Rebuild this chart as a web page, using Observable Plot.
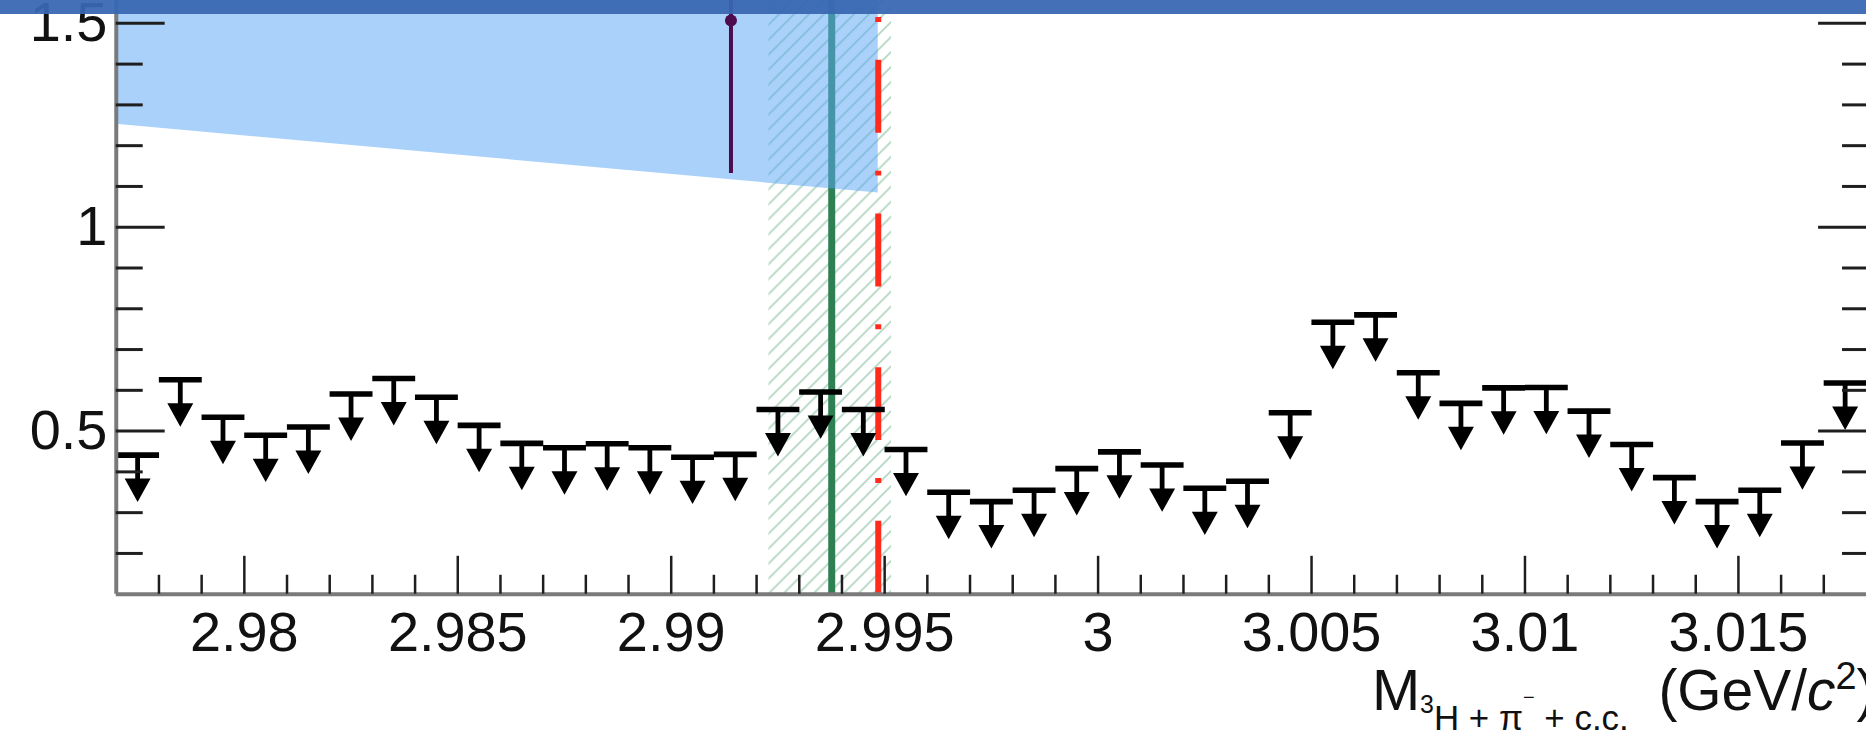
<!DOCTYPE html>
<html>
<head>
<meta charset="utf-8">
<script src="https://cdn.jsdelivr.net/npm/d3@7"></script>
<script src="https://cdn.jsdelivr.net/npm/@observablehq/plot@0.6"></script>
<style>
  html, body { margin: 0; padding: 0; background: #fff; overflow: hidden; }
  #wrap { position: relative; width: 1866px; height: 731px; overflow: hidden; }
  #header { position: absolute; left: 0; top: 0; width: 1866px; height: 14px; background: rgba(56,103,178,0.94); }
</style>
</head>
<body>
<svg width="0" height="0" style="position:absolute">
  <defs>
    <pattern id="hatch" patternUnits="userSpaceOnUse" width="15" height="15">
      <path d="M-3,18 L18,-3 M-3,3 L3,-3 M12,18 L18,12" stroke="#b3d6c1" stroke-width="1.8" fill="none"/>
    </pattern>
  </defs>
</svg>
<div id="wrap"><div id="chart"></div><div id="header"></div></div>
<script>
// ---- data ----
const binCenters = [
  2.9775, 2.9785, 2.9795, 2.9805, 2.9815, 2.9825, 2.9835, 2.9845, 2.9855, 2.9865,
  2.9875, 2.9885, 2.9895, 2.9905, 2.9915, 2.9925, 2.9935, 2.9945, 2.9955, 2.9965,
  2.9975, 2.9985, 2.9995, 3.0005, 3.0015, 3.0025, 3.0035, 3.0045, 3.0055, 3.0065,
  3.0075, 3.0085, 3.0095, 3.0105, 3.0115, 3.0125, 3.0135, 3.0145, 3.0155, 3.0165,
  3.0175
];
const upperLimits = [
  0.441, 0.626, 0.534, 0.490, 0.510, 0.591, 0.629, 0.583, 0.514, 0.470,
  0.459, 0.469, 0.459, 0.436, 0.443, 0.553, 0.596, 0.553, 0.455, 0.350,
  0.327, 0.355, 0.408, 0.449, 0.417, 0.360, 0.377, 0.545, 0.767, 0.785,
  0.643, 0.568, 0.606, 0.607, 0.549, 0.467, 0.386, 0.327, 0.355, 0.471,
  0.618
];
const xMajorTicks = [2.98, 2.985, 2.99, 2.995, 3, 3.005, 3.01, 3.015];
const yMajorTicks = [0.5, 1, 1.5];
const xDomain = [2.977, 3.018];
const yDomain = [0.1, 1.556];

const measX = [2.9914];
const measY = [1.507];
const measLo = [1.132];
const measHi = [1.556];

const bandX = [2.977, 2.99485];
const bandLow = [1.2526, 1.0837];

const greenLineX = [2.99376];
const hatchRange = [2.99229, 2.99516];
const redLineX = [2.99485];

// ---- derived tables ----
const limits = binCenters.map((x, i) => ({x, y: upperLimits[i]}));
const meas = measX.map((x, i) => ({x, y: measY[i], lo: measLo[i], hi: measHi[i]}));
const band = bandX.map((x, i) => ({x, low: bandLow[i]}));
const hatch = [{lo: hatchRange[0], hi: hatchRange[1]}];
const isMajor = (v, arr) => arr.some(t => Math.abs(t - v) < 1e-9);
const xMinorTicks = d3.range(2978, 3018).map(v => v / 1000).filter(v => !isMajor(v, xMajorTicks));
const yMinorTicks = d3.range(2, 16).map(v => v / 10).filter(v => !isMajor(v, yMajorTicks));
const fmt = d => String(+d.toFixed(3));

// ---- layout ----
const W = 1870, H = 731, mL = 116, mR = 0, mT = 0, mB = 136;
const frameW = W - mL - mR, frameH = H - mT - mB;

// upper-limit marker: cap + stem + filled head, drawn below the value
const ulSymbol = {
  draw(ctx) {
    ctx.moveTo(-21.5, -2.8); ctx.lineTo(21.5, -2.8); ctx.lineTo(21.5, 2.8); ctx.lineTo(-21.5, 2.8); ctx.closePath();
    ctx.moveTo(-2.4, 2.8); ctx.lineTo(2.4, 2.8); ctx.lineTo(2.4, 25); ctx.lineTo(-2.4, 25); ctx.closePath();
    ctx.moveTo(-13, 23.5); ctx.lineTo(13, 23.5); ctx.lineTo(0, 47); ctx.closePath();
  }
};

const tickColor = "#1e1e1e";
const axisGray = "#7a7a7a";
const fontFamily = "'Liberation Sans', Arial, Helvetica, sans-serif";

const plot = Plot.plot({
  width: W, height: H,
  marginLeft: mL, marginRight: mR, marginTop: mT, marginBottom: mB,
  x: {domain: xDomain},
  y: {domain: yDomain},
  style: {fontFamily, background: "transparent", color: "#111", overflow: "visible"},
  marks: [
    Plot.rect(hatch, {x1: "lo", x2: "hi", y1: yDomain[0], y2: yDomain[1], fill: "url(#hatch)"}),
    Plot.ruleX(greenLineX, {stroke: "#2e7f52", strokeWidth: 7}),
    Plot.areaY(band, {x: "x", y1: "low", y2: yDomain[1], fill: "#5aa6f5", fillOpacity: 0.52}),
    Plot.ruleX(redLineX, {y1: yDomain[0], y2: yDomain[1], stroke: "#ff2b1c", strokeWidth: 6, strokeDasharray: "73,38,5,38"}),
    Plot.ruleX(meas, {x: "x", y1: "lo", y2: "hi", stroke: "#4e0b4e", strokeWidth: 4}),
    Plot.dot(meas, {x: "x", y: "y", r: 6, fill: "#4e0b4e", stroke: "none"}),
    Plot.dot(limits, {x: "x", y: "y", symbol: ulSymbol, fill: "#000", stroke: "none"}),
    // axis lines
    Plot.ruleX([xDomain[0]], {stroke: axisGray, strokeWidth: 4}),
    Plot.ruleY([yDomain[0]], {stroke: axisGray, strokeWidth: 4}),
    // inward ticks, x
    Plot.ruleX(xMinorTicks, {insetTop: frameH - 19, stroke: tickColor, strokeWidth: 2.5}),
    Plot.ruleX(xMajorTicks, {insetTop: frameH - 38, stroke: tickColor, strokeWidth: 2.5}),
    // inward ticks, y left
    Plot.ruleY(yMinorTicks, {insetRight: frameW - 27, stroke: tickColor, strokeWidth: 3}),
    Plot.ruleY(yMajorTicks, {insetRight: frameW - 49, stroke: tickColor, strokeWidth: 3}),
    // inward ticks, y right
    Plot.ruleY(yMinorTicks, {insetLeft: frameW - 24, stroke: tickColor, strokeWidth: 3}),
    Plot.ruleY(yMajorTicks, {insetLeft: frameW - 48, stroke: tickColor, strokeWidth: 3}),
    // tick labels
    Plot.axisX({ticks: xMajorTicks, tickSize: 0, tickPadding: 17, fontSize: 56, tickFormat: fmt, label: null, fill: "#111"}),
    Plot.axisY({ticks: yMajorTicks, anchor: "left", tickSize: 0, tickPadding: 9, fontSize: 56, tickFormat: fmt, label: null, fill: "#111"})
  ]
});

document.getElementById("chart").appendChild(plot);

// x-axis title with sub/superscripts
const svg = d3.select(plot);
const t = svg.append("text")
  .attr("fill", "#111")
  .attr("text-anchor", "start")
  .attr("font-family", fontFamily);
t.append("tspan").attr("x", 1375).attr("y", 712).attr("font-size", 58).text("M");
t.append("tspan").attr("x", 1423).attr("y", 715).attr("font-size", 25).text("3");
t.append("tspan").attr("x", 1437).attr("y", 732).attr("font-size", 35).text("H + \u03c0");
t.append("tspan").attr("y", 706).attr("font-size", 20).text("\u2212");
t.append("tspan").attr("y", 732).attr("font-size", 35).text(" + c.c.");
t.append("tspan").attr("x", 1662).attr("y", 712).attr("font-size", 57).text("(GeV/");
t.append("tspan").attr("font-size", 57).attr("font-style", "italic").text("c");
t.append("tspan").attr("y", 690).attr("font-size", 38).text("2");
t.append("tspan").attr("y", 712).attr("font-size", 57).text(")");
</script>
</body>
</html>
